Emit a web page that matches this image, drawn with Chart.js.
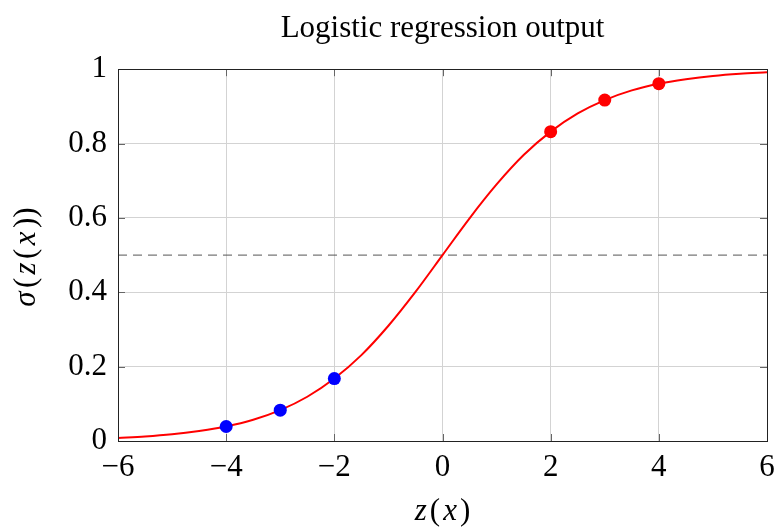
<html>
<head>
<script src="https://cdn.jsdelivr.net/npm/chart.js@4.4.0/dist/chart.umd.min.js"></script>
</head>
<body style="margin:0; background:white">
<canvas id="myChart" width="776" height="527"></canvas>
<script>
  // sigmoid curve, read every 0.5 along z(x)
  var zSteps = [-6, -5.5, -5, -4.5, -4, -3.5, -3, -2.5, -2, -1.5, -1, -0.5, 0,
                0.5, 1, 1.5, 2, 2.5, 3, 3.5, 4, 4.5, 5, 5.5, 6];
  var sigmaValues = [0.008, 0.012, 0.018, 0.027, 0.039, 0.057, 0.083, 0.119, 0.168, 0.231, 0.310, 0.401, 0.5,
                     0.599, 0.690, 0.769, 0.832, 0.881, 0.917, 0.943, 0.961, 0.973, 0.982, 0.988, 0.992];

  // observed points
  var negativeZ = [-4, -3, -2];
  var negativeSigma = [0.039, 0.083, 0.168];
  var positiveZ = [2, 3, 4];
  var positiveSigma = [0.832, 0.917, 0.961];

  // decision threshold
  var thresholdZ = [-6, 6];
  var thresholdSigma = [0.5, 0.5];

  var xTicks = [-6, -4, -2, 0, 2, 4, 6];
  var yTicks = [0, 0.2, 0.4, 0.6, 0.8, 1];

  function toPoints(xs, ys) {
    return xs.map((x, i) => ({x: x, y: ys[i]}));
  }

  var serif = "'Liberation Serif', 'Times New Roman', serif";

  // draws a string made of italic / upright pieces, centred on (cx, cy)
  function drawMixed(ctx, parts, cx, cy, size, gap) {
    var widths = parts.map(p => {
      ctx.font = (p[1] ? 'italic ' : '') + size + 'px ' + serif;
      return ctx.measureText(p[0]).width;
    });
    var total = widths.reduce((a, b) => a + b, 0) + gap * (parts.length - 1);
    var x = cx - total / 2;
    ctx.textBaseline = 'middle';
    ctx.textAlign = 'left';
    parts.forEach((p, i) => {
      ctx.font = (p[1] ? 'italic ' : '') + size + 'px ' + serif;
      ctx.fillText(p[0], x, cy);
      x += widths[i] + gap;
    });
  }

  var frame = {
    id: 'frame',
    afterDraw(chart) {
      var ctx = chart.ctx;
      var a = chart.chartArea;
      var xs = chart.scales.x, ys = chart.scales.y;
      ctx.save();
      // inner tick marks on all four sides
      ctx.strokeStyle = '#666';
      ctx.lineWidth = 1;
      ctx.beginPath();
      xTicks.forEach(t => {
        var px = Math.round(xs.getPixelForValue(t)) + 0.5;
        ctx.moveTo(px, a.bottom); ctx.lineTo(px, a.bottom - 7);
        ctx.moveTo(px, a.top); ctx.lineTo(px, a.top + 7);
      });
      yTicks.forEach(t => {
        var py = Math.round(ys.getPixelForValue(t)) + 0.5;
        ctx.moveTo(a.left, py); ctx.lineTo(a.left + 7, py);
        ctx.moveTo(a.right, py); ctx.lineTo(a.right - 7, py);
      });
      ctx.stroke();
      // box round the plot
      ctx.strokeStyle = '#222';
      ctx.strokeRect(Math.round(a.left) + 0.5, Math.round(a.top) + 0.5,
                     Math.round(a.right - a.left), Math.round(a.bottom - a.top));
      // axis titles
      ctx.fillStyle = '#000';
      drawMixed(ctx, [['z', true], ['(', false], ['x', true], [')', false]],
                (a.left + a.right) / 2, a.bottom + 71, 31, 3);
      ctx.translate(27, (a.top + a.bottom) / 2 + 2);
      ctx.rotate(-Math.PI / 2);
      drawMixed(ctx, [['σ', true], ['(', false], ['z', true], ['(', false], ['x', true], ['))', false]],
                0, 0, 31, 3.4);
      ctx.restore();
    }
  };

  var ctx = document.getElementById('myChart').getContext('2d');
  let chart = new Chart(ctx, {
    type: 'scatter',
    data: {
      datasets: [
        {
          data: toPoints(negativeZ, negativeSigma),
          backgroundColor: 'blue',
          borderWidth: 0,
          pointRadius: 6.5,
          showLine: false
        },
        {
          data: toPoints(positiveZ, positiveSigma),
          backgroundColor: 'red',
          borderWidth: 0,
          pointRadius: 6.5,
          showLine: false
        },
        {
          data: toPoints(zSteps, sigmaValues),
          borderColor: 'red',
          borderWidth: 2,
          pointRadius: 0,
          showLine: true,
          cubicInterpolationMode: 'monotone'
        },
        {
          data: toPoints(thresholdZ, thresholdSigma),
          borderColor: '#555',
          borderWidth: 1,
          borderDash: [9, 6],
          pointRadius: 0,
          showLine: true
        }
      ]
    },
    options: {
      responsive: false,
      animation: false,
      devicePixelRatio: 1,
      layout: {padding: {right: 9}},
      plugins: {
        legend: {display: false},
        tooltip: {enabled: false},
        title: {
          display: true,
          fullSize: false,
          text: 'Logistic regression output',
          color: '#000',
          font: {family: serif, size: 31, weight: 'normal'},
          padding: {top: 10, bottom: 22}
        }
      },
      scales: {
        x: {
          type: 'linear',
          min: -6,
          max: 6,
          afterFit: s => { s.height = 86; s.paddingLeft = 0; s.paddingRight = 0; },
          afterBuildTicks: s => { s.ticks = xTicks.map(v => ({value: v})); },
          ticks: {
            color: '#000',
            font: {family: serif, size: 31},
            padding: 8,
            maxRotation: 0,
            callback: v => String(v).replace('-', '\u2212')
          },
          grid: {color: '#d3d3d3', drawTicks: false},
          border: {display: false}
        },
        y: {
          min: 0,
          max: 1,
          afterFit: s => { s.width = 118; },
          afterBuildTicks: s => { s.ticks = yTicks.map(v => ({value: v})); },
          ticks: {
            color: '#000',
            font: {family: serif, size: 31},
            padding: 11,
            callback: v => String(v)
          },
          grid: {color: '#d3d3d3', drawTicks: false},
          border: {display: false}
        }
      }
    },
    plugins: [frame]
  });
</script>
</body>
</html>
